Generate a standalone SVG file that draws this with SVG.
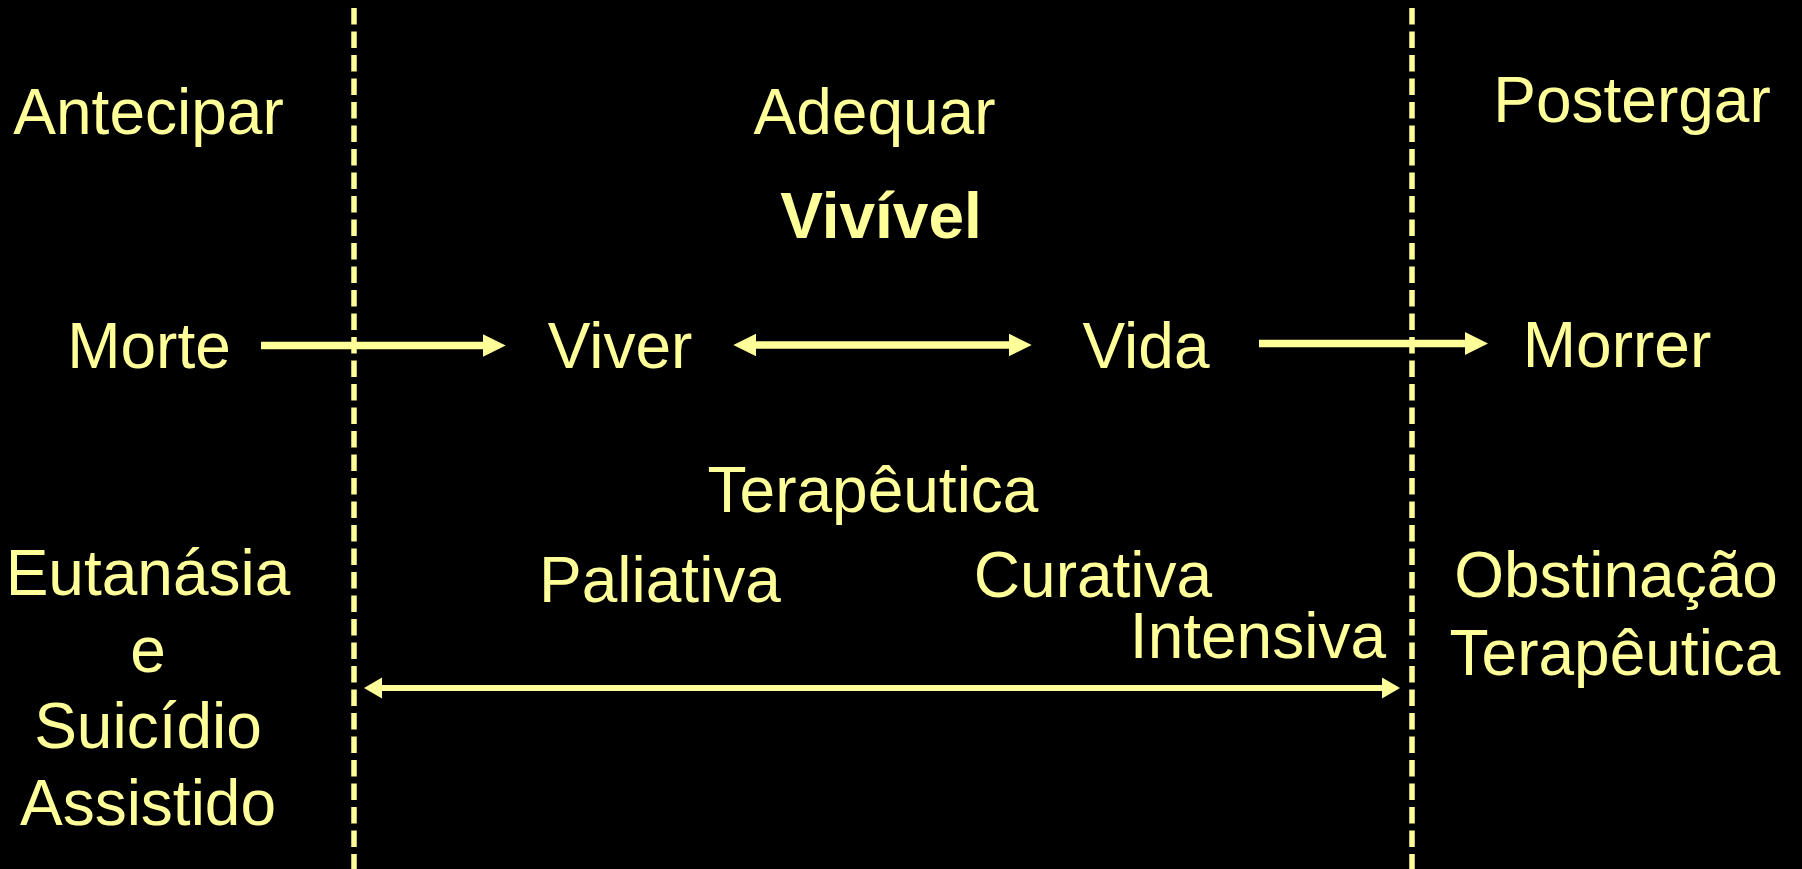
<svg xmlns="http://www.w3.org/2000/svg" width="1802" height="869" viewBox="0 0 1802 869">
  <defs>
    <style>
      .t { font-family: "Liberation Sans", Arial, sans-serif; font-size: 64px; fill: #FFFF99; text-anchor: middle; }
      .b { font-weight: bold; }
      .dash { stroke: #FFFF99; stroke-width: 5.5; stroke-dasharray: 16.5 7; fill: none; }
      .arr { stroke: #FFFF99; stroke-width: 7.5; fill: none; }
      .arr2 { stroke: #FFFF99; stroke-width: 6; fill: none; }
    </style>
    <marker id="head" markerUnits="userSpaceOnUse" markerWidth="24" markerHeight="24" refX="2" refY="11.5" orient="auto-start-reverse">
      <path d="M0,0 L23,11.5 L0,23 Z" fill="#FFFF99"/>
    </marker>
    <marker id="head2" markerUnits="userSpaceOnUse" markerWidth="20" markerHeight="22" refX="2" refY="10.5" orient="auto-start-reverse">
      <path d="M0,0 L18,10.5 L0,21 Z" fill="#FFFF99"/>
    </marker>
  </defs>
  <rect x="0" y="0" width="1802" height="869" fill="#000000"/>

  <g id="dividers">
    <line class="dash" x1="354" y1="8" x2="354" y2="869"/>
    <line class="dash" x1="1412" y1="8" x2="1412" y2="869"/>
  </g>

  <g id="connectors">
    <line class="arr" x1="261" y1="345.5" x2="484.7" y2="345.5" marker-end="url(#head)"/>
    <line class="arr" x1="754.3" y1="345" x2="1010.7" y2="345" marker-start="url(#head)" marker-end="url(#head)"/>
    <line class="arr" x1="1259" y1="343.5" x2="1467" y2="343.5" marker-end="url(#head)"/>
    <line class="arr2" x1="380" y1="688" x2="1384" y2="688" marker-start="url(#head2)" marker-end="url(#head2)"/>
  </g>

  <g id="antecipar"><text class="t" x="148.5" y="134">Antecipar</text></g>
  <g id="adequar"><text class="t" x="874.5" y="134">Adequar</text></g>
  <g id="postergar"><text class="t" x="1632" y="122">Postergar</text></g>
  <g id="vivivel"><text class="t b" x="881" y="238">Vivível</text></g>

  <g id="morte"><text class="t" x="149" y="368">Morte</text></g>
  <g id="viver"><text class="t" x="620" y="368">Viver</text></g>
  <g id="vida"><text class="t" x="1146" y="368">Vida</text></g>
  <g id="morrer"><text class="t" x="1617" y="367">Morrer</text></g>

  <g id="terapeutica"><text class="t" x="873" y="512">Terapêutica</text></g>
  <g id="paliativa"><text class="t" x="660" y="602">Paliativa</text></g>
  <g id="curativa"><text class="t" x="1093" y="597">Curativa</text></g>
  <g id="intensiva"><text class="t" x="1386" y="658" style="text-anchor:end">Intensiva</text></g>

  <g id="eutanasia">
    <text class="t" x="148" y="595">Eutanásia</text>
    <text class="t" x="148" y="672">e</text>
    <text class="t" x="148" y="748">Suicídio</text>
    <text class="t" x="148" y="825">Assistido</text>
  </g>

  <g id="obstinacao">
    <text class="t" x="1616" y="597">Obstinação</text>
    <text class="t" x="1615" y="675">Terapêutica</text>
  </g>
</svg>
